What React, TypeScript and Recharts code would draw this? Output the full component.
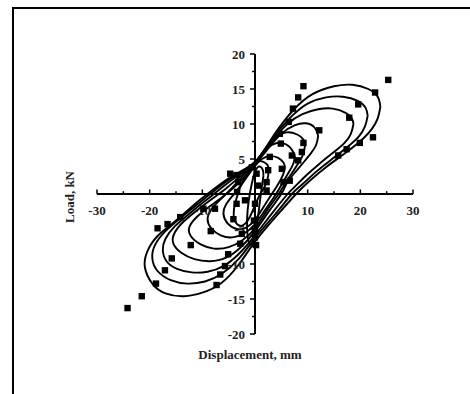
import React from "react"
import { ComposedChart, Line, Scatter, XAxis, YAxis, ReferenceLine, ReferenceDot } from "recharts"

// hysteresis loops, outer to inner, traced clockwise from the right tip
const loop1 = [
    [23.8, 12.5], [23.3, 10.8], [22.2, 9.3], [20.5, 7.9], [17.4, 6], [13.6, 3.9], [10.4, 1.9], [7.8, 0],
    [4, -3.2], [0, -6.8], [-3, -10], [-6.5, -12.8], [-10, -14.1], [-13.5, -14.6], [-17, -14.2], [-19.5, -12.8],
    [-20.9, -10.5], [-20.5, -8.3], [-18.5, -6], [-15, -3.8], [-11.5, -1.5], [-8, 0.6], [-4, 2.7], [0, 4.6],
    [3.5, 8.3], [7.3, 12], [11, 14.3], [15, 15.4], [18.5, 15.6], [21.5, 15], [23.3, 13.9], [23.8, 12.5],
]
const loop2 = [
    [21.4, 11.2], [20.9, 9.7], [19.8, 8.3], [18, 7], [15, 5.2], [11.8, 3.3], [9, 1.4], [7, 0],
    [3.7, -3], [0, -6.3], [-3, -9.2], [-6.3, -11.4], [-9.5, -12.5], [-12.8, -12.8], [-16, -12.3], [-18.5, -11],
    [-19.5, -9.2], [-19, -7.3], [-17, -5.3], [-13.8, -3.2], [-10.5, -1.2], [-7.5, 0.6], [-3.8, 2.6], [0, 4.5],
    [3.2, 7.8], [6.7, 10.9], [10, 12.9], [13.5, 13.8], [16.7, 13.9], [19.5, 13.3], [21, 12.3], [21.4, 11.2],
]
const loop3 = [
    [18.7, 10], [18.2, 8.6], [17, 7.3], [15, 6], [12.2, 4.3], [9.5, 2.5], [7.5, 1], [6.2, 0],
    [3.3, -2.7], [0, -5.9], [-3, -8.5], [-6, -10.3], [-9, -11.1], [-12, -11.2], [-14.8, -10.7], [-16.8, -9.6],
    [-17.5, -8], [-17, -6.4], [-15.2, -4.6], [-12.3, -2.7], [-9.5, -1], [-6.8, 0.6], [-3.5, 2.5], [0, 4.4],
    [3, 7.3], [6, 9.9], [9, 11.4], [12, 12.1], [14.8, 12.2], [17.2, 11.6], [18.4, 10.8], [18.7, 10],
]
const loop4 = [
    [12, 8.3], [11.6, 7], [10.6, 5.8], [9.2, 4.5], [7.5, 3], [6, 1.5], [5, 0], [2.8, -2.3],
    [0, -5.3], [-2.7, -7.6], [-5.5, -9.1], [-8.5, -9.6], [-11.5, -9.3], [-14, -8.4], [-15.5, -7.1], [-15.3, -5.6],
    [-13.5, -3.9], [-10.8, -2.2], [-8, -0.6], [-5.5, 0.8], [-2.8, 2.5], [0, 4.3], [2.6, 6.6], [5, 8.6],
    [7.5, 9.8], [9.7, 10.1], [11.3, 9.5], [12, 8.3],
]
const loop5 = [
    [9.5, 7], [9.2, 5.8], [8.4, 4.6], [7.2, 3.2], [5.8, 1.6], [4.5, 0], [2.4, -2.2], [0, -4.9],
    [-2.4, -6.6], [-5, -7.6], [-7.8, -7.8], [-10.3, -7.2], [-12.2, -6], [-12.4, -4.6], [-10.8, -3.1], [-8.3, -1.6],
    [-5.8, -0.2], [-3.2, 1.5], [-1.3, 3], [0, 4.2], [2, 6.5], [4, 8.1], [6, 8.8], [8, 8.5],
    [9.2, 7.8], [9.5, 7],
]
const loop6 = [
    [7.6, 5.5], [7.3, 4.4], [6.5, 3.2], [5.3, 1.7], [4, 0], [2, -2.2], [0, -4.3], [-2, -5.6],
    [-4.3, -6.2], [-6.5, -5.9], [-8.3, -4.9], [-9, -3.6], [-8.3, -2.2], [-6.6, -0.8], [-4.6, 0.7], [-2.6, 2.3],
    [-1, 3.6], [0, 4.3], [1.5, 5.9], [3.2, 7], [5, 7.3], [6.6, 6.7], [7.6, 5.5],
]
const loop7 = [
    [5.7, 3.8], [5.3, 2.7], [4.3, 1.3], [3.2, 0], [1.5, -2], [0, -3.7], [-1.7, -4.8], [-3.5, -5],
    [-5.2, -4.2], [-6, -2.8], [-5.5, -1.5], [-4.2, -0.2], [-2.6, 1.3], [-1.2, 2.8], [0, 4], [1.3, 5],
    [2.8, 5.4], [4.3, 5.2], [5.4, 4.5], [5.7, 3.8],
]
const loop8 = [
    [2.6, 3.4], [2.4, 2.2], [1.8, 1], [1, 0], [0, -1.6], [-0.8, -3], [-1.8, -4.2], [-3, -4.5],
    [-3.9, -3.6], [-4, -2.2], [-3.5, -0.6], [-2.8, 1], [-1.9, 2.4], [-0.8, 3.7], [0.4, 4.6], [1.6, 4.6],
    [2.4, 4.1], [2.6, 3.4],
]
const loop9 = [
    [1.6, 2.6], [1.2, 0.5], [0.7, -2.5], [0.3, -5], [-0.2, -6.8], [-0.9, -7.2], [-1.4, -6], [-1.5, -3.5],
    [-1.2, -1], [-0.6, 1.5], [0.2, 3.5], [1, 3.9], [1.5, 3.4], [1.6, 2.6],
]

// test points (squares)
const points = [
    [25.3, 16.3], [9.2, 15.4], [8.2, 13.8], [7.2, 12.2], [6.4, 10.3], [22.8, 14.5], [19.6, 12.8], [17.9, 10.9],
    [22.4, 8.1], [12.2, 9.1], [19.9, 7.3], [17.4, 6.4], [15.8, 5.5], [9.2, 7.3], [8.9, 6.0], [8.2, 4.8],
    [7, 5.5], [4.9, 7.2], [4.7, 8.6], [5.1, 3.6], [2.8, 5.3], [2.5, 3.4], [2.2, 1.7], [2.2, 0.5],
    [5.4, 1.7], [6.6, 1.9], [-0.6, 3.8], [0.3, 2.9], [-3.5, 2.7], [-4.7, 2.9], [-3.2, 1.7], [-3.5, -1.4],
    [-1.9, -0.9], [0, -1.4], [-0.2, -3.8], [-4.1, -3.6], [0, -5.2], [0, -6.2], [-2.5, -5.7], [-2.8, -7.1],
    [-5.1, -8.6], [-5.7, -10.3], [-6.6, -11.5], [-7.3, -13], [-7.6, -2.1], [-9.8, -2.1], [-8.4, -5.3], [-12.2, -7.3],
    [-14.2, -3.3], [-16.6, -4.3], [-18.5, -4.9], [-15.8, -9.2], [-17.1, -10.9], [-18.8, -12.8], [-21.5, -14.6], [-24.2, -16.3],
    [0.2, -7.3], [-3.4, 0.3], [0.6, 1.2],
]

const loops = [loop1, loop2, loop3, loop4, loop5, loop6, loop7, loop8, loop9]

const xMajor = [-30, -20, -10, 0, 10, 20, 30]
const xMinor = [-25, -15, -5, 5, 15, 25]
const xLabels = [-30, -20, -10, 10, 20, 30]
const yMajor = [-20, -15, -10, -5, 0, 5, 10, 15, 20]
const yMinor = [-17.5, -12.5, -7.5, -2.5, 2.5, 7.5, 12.5, 17.5]
const yLabels = [-20, -15, -10, -5, 5, 10, 15, 20]

const toXY = (arr: number[][]) => arr.map(([x, y]) => ({ x, y }))

const font = "'Liberation Serif', 'Times New Roman', serif"
const textStyle = { fontFamily: font, fontWeight: 700, fontSize: 13, fill: "#222" }

export default function App() {
    return (
        <div style={{ position: "fixed", left: 0, top: 0, width: 470, height: 394, overflow: "hidden", background: "#fff" }}>
            <div style={{ position: "absolute", left: 12, top: 7, width: 480, height: 420, border: "2px solid #000" }} />
            <div style={{ position: "absolute", left: 0, top: 0 }}>
                <ComposedChart width={470} height={394} margin={{ left: 97, right: 57, top: 54, bottom: 60 }}>
                    <XAxis type="number" dataKey="x" domain={[-30, 30]} hide />
                    <YAxis type="number" dataKey="y" domain={[-20, 20]} hide />
                    <ReferenceLine x={0} stroke="#000" strokeWidth={2} />
                    <ReferenceLine y={0} stroke="#000" strokeWidth={2} />
                    {xMajor.map((t) => (
                        <ReferenceLine key={"xM" + t} segment={[{ x: t, y: 0 }, { x: t, y: 0.65 }]} stroke="#000" strokeWidth={1.5} />
                    ))}
                    {xMinor.map((t) => (
                        <ReferenceLine key={"xm" + t} segment={[{ x: t, y: 0 }, { x: t, y: 0.4 }]} stroke="#000" strokeWidth={1.5} />
                    ))}
                    {yMajor.map((t) => (
                        <ReferenceLine key={"yM" + t} segment={[{ x: -0.95, y: t }, { x: 0, y: t }]} stroke="#000" strokeWidth={1.5} />
                    ))}
                    {yMinor.map((t) => (
                        <ReferenceLine key={"ym" + t} segment={[{ x: -0.55, y: t }, { x: 0, y: t }]} stroke="#000" strokeWidth={1.5} />
                    ))}
                    {xLabels.map((t) => (
                        <ReferenceDot
                            key={"xl" + t}
                            x={t}
                            y={0}
                            shape={(p: any) => (
                                <text x={p.cx} y={p.cy + 21} textAnchor="middle" style={textStyle}>{t}</text>
                            )}
                        />
                    ))}
                    {yLabels.map((t) => (
                        <ReferenceDot
                            key={"yl" + t}
                            x={0}
                            y={t}
                            shape={(p: any) => (
                                <text x={p.cx - 10} y={p.cy + 4.5} textAnchor="end" style={textStyle}>{t}</text>
                            )}
                        />
                    ))}
                    {loops.map((lp, i) => (
                        <Line
                            key={"loop" + i}
                            data={toXY(lp)}
                            dataKey="y"
                            type="natural"
                            stroke="#000"
                            strokeWidth={1.9}
                            dot={false}
                            isAnimationActive={false}
                        />
                    ))}
                    <Scatter
                        data={toXY(points)}
                        fill="#000"
                        isAnimationActive={false}
                        shape={(p: any) => <rect x={p.cx - 3.2} y={p.cy - 3.2} width={6.4} height={6.4} fill="#000" />}
                    />
                    <text x={250} y={359} textAnchor="middle" style={textStyle}>Displacement, mm</text>
                    <text x={74} y={197} textAnchor="middle" transform="rotate(-90 74 197)" style={textStyle}>Load, kN</text>
                </ComposedChart>
            </div>
        </div>
    )
}
